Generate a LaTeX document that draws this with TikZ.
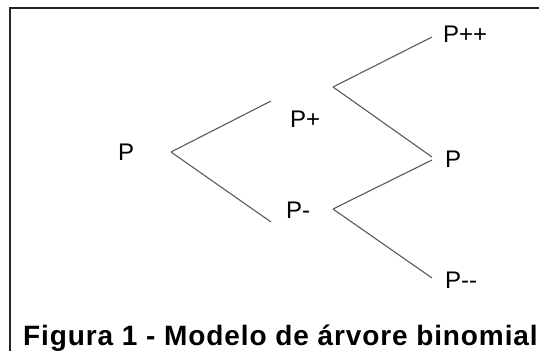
\documentclass[tikz,border=0pt]{standalone}
\usepackage{fontspec}
\setmainfont{Liberation Sans}
\newfontfamily\capfont[LetterSpace=3.2]{Liberation Sans}
\definecolor{branch}{HTML}{5A5A5A}
\begin{document}
\begin{tikzpicture}[x=1pt,y=-1pt,
  branchline/.style={draw=branch,line width=1.1pt},
  price/.style={anchor=base west,inner sep=0pt,font=\fontsize{24}{28}\selectfont},
  caption/.style={anchor=base west,inner sep=0pt,font=\capfont\bfseries\fontsize{28}{32}\selectfont}]
  \useasboundingbox (0,0) rectangle (539,351);
  \clip (0,0) rectangle (539,351);
  \fill[white] (0,0) rectangle (539,351);
  % outer frame, running past the right and bottom edges
  \draw[line width=2pt,black!85] (10,8) rectangle (560,370);

  % branching points of the tree
  \coordinate (r0) at (171,152);
  \coordinate (u1) at (271,101);
  \coordinate (d1) at (271,222);
  \coordinate (u2) at (333,87);
  \coordinate (d2) at (333,209);
  \coordinate (uu) at (432,37);
  \coordinate (ud) at (432,157);
  \coordinate (du) at (432,160);
  \coordinate (dd) at (432,278);

  \path[branchline] (r0) -- (u1);
  \path[branchline] (r0) -- (d1);
  \path[branchline] (u2) -- (uu);
  \path[branchline] (u2) -- (ud);
  \path[branchline] (d2) -- (du);
  \path[branchline] (d2) -- (dd);

  % price labels
  \node[price] (p0)  at (118,160) {P};
  \node[price] (pu)  at (290,127) {P+};
  \node[price] (pd)  at (286,218) {P-};
  \node[price] (puu) at (443,42)  {P++};
  \node[price] (pud) at (445,167) {P};
  \node[price] (pdd) at (445,288) {P-{}-};

  \node[caption] (cap) at (23,345) {Figura 1 - Modelo de árvore binomial};
\end{tikzpicture}
\end{document}
